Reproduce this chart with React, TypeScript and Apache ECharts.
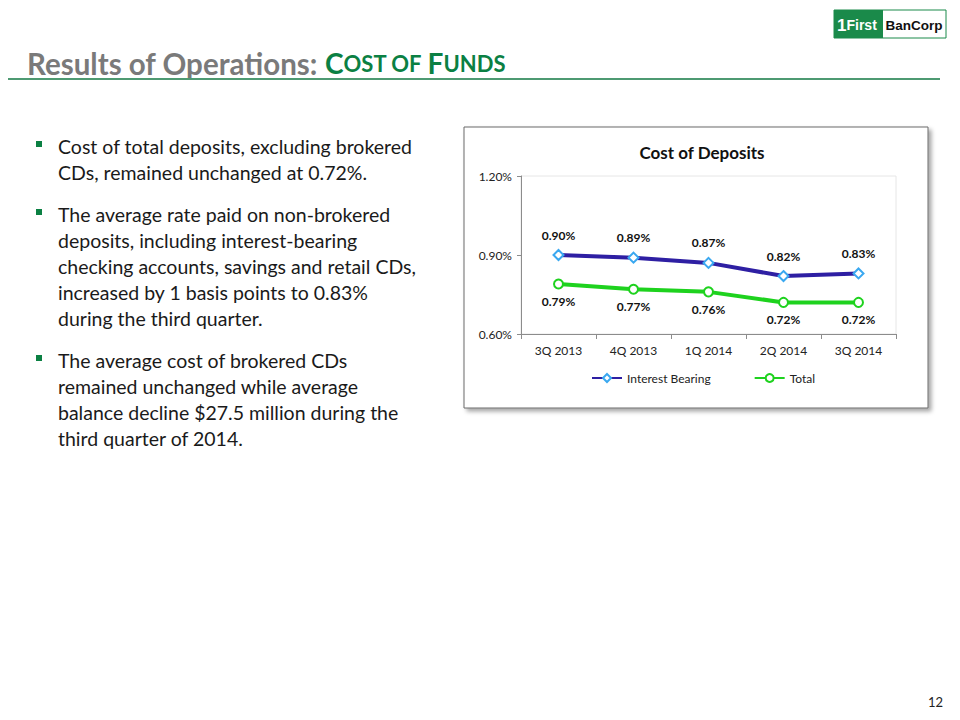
import React, { useEffect, useRef } from "react";
import * as echarts from "echarts";

const categories = ["3Q 2013", "4Q 2013", "1Q 2014", "2Q 2014", "3Q 2014"];
const interestBearing = [0.9, 0.89, 0.87, 0.82, 0.83];
const total = [0.79, 0.77, 0.76, 0.72, 0.72];
const yTicks = { min: 0.6, max: 1.2, interval: 0.3 };

const bullets: string[][] = [
  ["Cost of total deposits, excluding brokered", "CDs, remained unchanged at 0.72%."],
  [
    "The average rate paid on non-brokered",
    "deposits, including interest-bearing",
    "checking accounts, savings and retail CDs,",
    "increased by 1 basis points to 0.83%",
    "during the third quarter.",
  ],
  [
    "The average cost of brokered CDs",
    "remained unchanged while average",
    "balance decline $27.5 million during the",
    "third quarter of 2014.",
  ],
];

const FONT = "Lato, 'Open Sans', sans-serif";
const GREEN = "#0b8043";

export default function App() {
  const ref = useRef<HTMLDivElement>(null);
  useEffect(() => {
    if (!ref.current) return;
    const chart = echarts.init(ref.current, undefined, { renderer: "svg" });

    const graphics: any[] = [];
    graphics.push({
      type: "rect",
      z: -10,
      shape: { x: 464, y: 127, width: 464, height: 281 },
      style: {
        fill: "#fff",
        stroke: "#6b6b6b",
        lineWidth: 1,
        shadowBlur: 4,
        shadowOffsetX: 3,
        shadowOffsetY: 3,
        shadowColor: "rgba(0,0,0,0.35)",
      },
    });
    graphics.push({
      type: "text",
      x: 27,
      y: 63,
      style: {
        text: "{g|Results of Operations: }{a|C}{b|OST OF }{a|F}{b|UNDS}",
        verticalAlign: "middle",
        rich: {
          g: { font: `bold 29.5px ${FONT}`, fill: "#7a7a7a" },
          a: { font: `bold 28px ${FONT}`, fill: GREEN },
          b: { font: `bold 22px ${FONT}`, fill: GREEN },
        },
      },
    });
    graphics.push({
      type: "line",
      shape: { x1: 8, y1: 79, x2: 940, y2: 79 },
      style: { stroke: "#4e9a72", lineWidth: 2 },
    });
    graphics.push({
      type: "rect",
      shape: { x: 834, y: 10, width: 112, height: 28 },
      style: { fill: "#fff", stroke: "#1a8a4a", lineWidth: 1 },
    });
    graphics.push({
      type: "rect",
      shape: { x: 834, y: 10, width: 49, height: 28 },
      style: { fill: "#1a8a4a" },
    });
    graphics.push({
      type: "text",
      x: 837,
      y: 25,
      style: {
        text: "{o|1}{f|First}",
        verticalAlign: "middle",
        rich: {
          o: { font: `bold 17px 'Liberation Sans', sans-serif`, fill: "#fff" },
          f: { font: `bold 14px 'Liberation Sans', sans-serif`, fill: "#fff" },
        },
      },
    });
    graphics.push({
      type: "text",
      x: 914,
      y: 25,
      style: {
        text: "BanCorp",
        font: `bold 13.5px 'Liberation Sans', sans-serif`,
        fill: "#111",
        align: "center",
        verticalAlign: "middle",
      },
    });
    const paraStarts = [146, 214, 360];
    bullets.forEach((lines, pi) => {
      const y0 = paraStarts[pi];
      graphics.push({
        type: "rect",
        shape: { x: 36, y: y0 - 5, width: 6, height: 6 },
        style: { fill: GREEN },
      });
      lines.forEach((ln, li) => {
        graphics.push({
          type: "text",
          x: 58,
          y: y0 + li * 26,
          style: {
            text: ln,
            font: `19.5px ${FONT}`,
            fill: "#1a1a1a",
            verticalAlign: "middle",
          },
        });
      });
    });
    graphics.push({
      type: "text",
      x: 943,
      y: 702,
      style: {
        text: "12",
        font: `13px ${FONT}`,
        fill: "#222",
        align: "right",
        verticalAlign: "middle",
      },
    });

    chart.setOption({
      animation: false,
      textStyle: { fontFamily: FONT },
      title: {
        text: "Cost of Deposits",
        left: 697,
        top: 139,
        textAlign: "center",
        textStyle: { fontSize: 17, fontWeight: "bold", color: "#111", fontFamily: FONT },
      },
      legend: {
        left: 591,
        top: 372,
        padding: 0,
        itemWidth: 30,
        itemHeight: 10,
        itemGap: 43,
        textStyle: { fontSize: 12, color: "#222", fontFamily: FONT },
        data: ["Interest Bearing", "Total"],
      },
      grid: {
        left: 521,
        top: 176,
        width: 375,
        height: 158,
        show: true,
        borderColor: "#e6e6e6",
        borderWidth: 1,
      },
      xAxis: {
        type: "category",
        data: categories,
        boundaryGap: true,
        axisLine: { lineStyle: { color: "#8c8c8c" } },
        axisTick: { show: true, inside: false, length: 5, lineStyle: { color: "#8c8c8c" } },
        axisLabel: { fontSize: 12, color: "#222", margin: 10 },
        splitLine: { show: false },
      },
      yAxis: {
        type: "value",
        min: yTicks.min,
        max: yTicks.max,
        interval: yTicks.interval,
        axisLine: { show: true, lineStyle: { color: "#8c8c8c" } },
        axisTick: { show: true, inside: false, length: 4, lineStyle: { color: "#8c8c8c" } },
        axisLabel: {
          fontSize: 12,
          color: "#222",
          margin: 9,
          formatter: (v: number) => v.toFixed(2) + "%",
        },
        splitLine: { show: false },
      },
      series: [
        {
          name: "Interest Bearing",
          type: "line",
          data: interestBearing,
          symbol: "diamond",
          symbolSize: 10,
          lineStyle: { color: "#2e1fa3", width: 4 },
          itemStyle: { color: "#fff", borderColor: "#3aa8f0", borderWidth: 2 },
          label: {
            show: true,
            position: "top",
            distance: 8,
            fontSize: 12,
            fontWeight: "bold",
            color: "#111",
            formatter: (p: any) => p.value.toFixed(2) + "%",
          },
        },
        {
          name: "Total",
          type: "line",
          data: total,
          symbol: "circle",
          symbolSize: 9,
          lineStyle: { color: "#1ed21e", width: 4 },
          itemStyle: { color: "#fff", borderColor: "#1ed21e", borderWidth: 2 },
          label: {
            show: true,
            position: "bottom",
            distance: 6,
            fontSize: 12,
            fontWeight: "bold",
            color: "#111",
            formatter: (p: any) => p.value.toFixed(2) + "%",
          },
        },
      ],
      graphic: graphics,
    });
    return () => chart.dispose();
  }, []);
  return (
    <div
      ref={ref}
      style={{ position: "absolute", left: 0, top: 0, width: 960, height: 720, background: "#fff" }}
    />
  );
}
